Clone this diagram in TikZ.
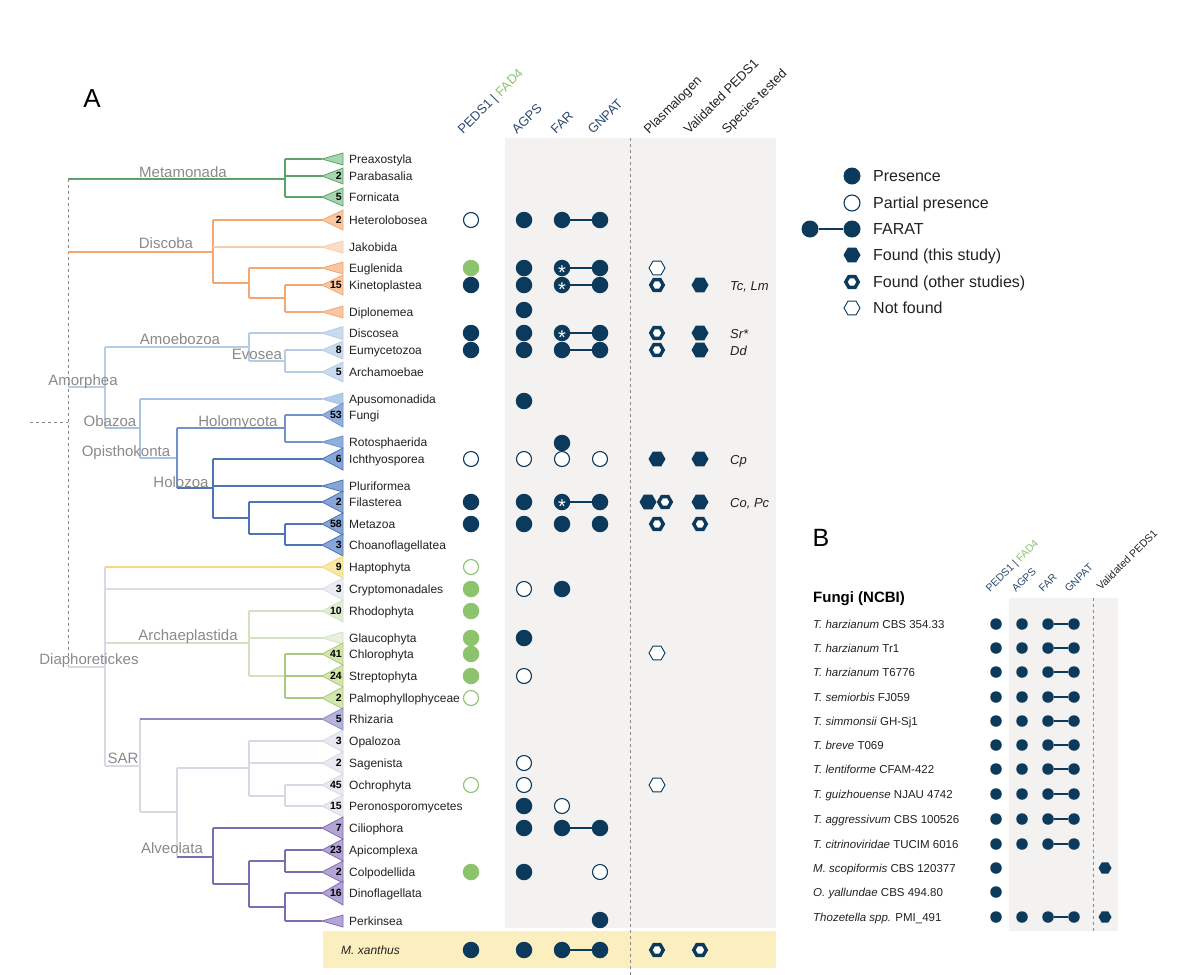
\documentclass[tikz,border=0pt]{standalone}
\usepackage{fontspec}
\setmainfont{Liberation Sans}
\usetikzlibrary{shapes.geometric}
\newcommand\myfs[1]{\fontsize{#1}{#1}\selectfont}
\definecolor{navy}{HTML}{0B3A5C}
\definecolor{grn}{HTML}{8CC46E}
\definecolor{txt}{HTML}{222222}
\definecolor{clgray}{HTML}{8A8A8A}
\definecolor{band}{HTML}{F4F1F1}
\definecolor{yband}{HTML}{FCEFBF}
\definecolor{dgray}{HTML}{888888}
\definecolor{hdr}{HTML}{2B4A72}
\definecolor{cG}{HTML}{5AA469}\definecolor{cGF}{HTML}{A8D5B0}
\definecolor{cO}{HTML}{F4A672}\definecolor{cOF}{HTML}{F9C6A0}
\definecolor{cOL}{HTML}{F8CDAA}\definecolor{cOLF}{HTML}{FBDCC6}
\definecolor{cLB}{HTML}{B4CCE6}\definecolor{cLBF}{HTML}{CADBEF}
\definecolor{cOB}{HTML}{A6C2E4}\definecolor{cOBF}{HTML}{B1CBE9}
\definecolor{cMB}{HTML}{6F93CA}\definecolor{cMBF}{HTML}{8FAEDC}
\definecolor{cDB}{HTML}{4D74B5}\definecolor{cDBF}{HTML}{86A6D7}
\definecolor{cY}{HTML}{F3DA7A}\definecolor{cYF}{HTML}{F8E7A5}
\definecolor{cC}{HTML}{DCDCE6}\definecolor{cCF}{HTML}{EBEBF2}
\definecolor{cA}{HTML}{D2E2C0}\definecolor{cRF}{HTML}{E1ECD4}\definecolor{cGlF}{HTML}{E8F0E0}
\definecolor{cV}{HTML}{A9C97E}\definecolor{cVF}{HTML}{D5E6A9}
\definecolor{cS}{HTML}{D8D8E5}\definecolor{cSF}{HTML}{E9E9F1}
\definecolor{cRh}{HTML}{8C8CC0}\definecolor{cRhF}{HTML}{B4B4DC}
\definecolor{cAl}{HTML}{7D6DB0}\definecolor{cAlF}{HTML}{B3A6D6}
\definecolor{cDi}{HTML}{D9D9E3}
\definecolor{cAm}{HTML}{B8CDE4}
\newcommand\clade[7]{%
  \filldraw[fill=#4,draw=#5,line width=0.8pt] (322,#2) -- (343,#2-#3) -- (343,#2+#3) -- cycle;
  \node[num] (n#1) at (342,#2+3.8) {#6};
  \node[tax] (t#1) at (349,#2+4.3) {#7};}
\begin{document}
\begin{tikzpicture}[x=1pt,y=-1pt,
  br/.style={line width=1.5pt},
  tax/.style={anchor=base west, inner sep=0, font=\myfs{12}, text=txt},
  num/.style={anchor=base east, inner sep=0, font={\myfs{10.5}\bfseries}, text=black},
  clab/.style={anchor=base, inner sep=0, font=\myfs{15}, text=clgray},
  pres/.style={circle, fill=navy, minimum size=16.5pt, inner sep=0},
  part/.style={circle, draw=navy, fill=white, line width=1.1pt, minimum size=15pt, inner sep=0},
  gpres/.style={circle, fill=grn, minimum size=16.5pt, inner sep=0},
  gpart/.style={circle, draw=grn, fill=white, line width=1.1pt, minimum size=15pt, inner sep=0},
  hexf/.style={regular polygon, regular polygon sides=6, fill=navy, minimum size=17pt, inner sep=0},
  hexo/.style={regular polygon, regular polygon sides=6, draw=navy, fill=white, line width=3.4pt, minimum size=12.5pt, inner sep=0},
  hexn/.style={regular polygon, regular polygon sides=6, draw=navy, fill=white, line width=0.9pt, minimum size=16pt, inner sep=0},
  farat/.style={draw=navy, line width=2pt},
  ast/.style={text=white, inner sep=0, font=\myfs{20}, yshift=-4.6pt},
  spc/.style={anchor=base west, inner sep=0, font={\myfs{13}\itshape}, text=txt},
  hA/.style={rotate=45, anchor=base west, inner sep=0, font=\myfs{13}},
  hB/.style={rotate=45, anchor=base west, inner sep=0, font=\myfs{10.5}},
  leg/.style={anchor=base west, inner sep=0, font=\myfs{16}, text=txt},
  btx/.style={anchor=base west, inner sep=0, font=\myfs{11.5}, text=txt},
  bpres/.style={circle, fill=navy, minimum size=11.5pt, inner sep=0},
  bhex/.style={regular polygon, regular polygon sides=6, fill=navy, minimum size=13pt, inner sep=0},
  bfarat/.style={draw=navy, line width=1.6pt}
]
\useasboundingbox (0,0) rectangle (1200,975);
\fill[white] (0,0) rectangle (1200,975);

% background bands
\fill[band] (505,138) rectangle (776,928);
\fill[yband] (323,931) rectangle (776,968);
\draw[dgray, dashed, line width=0.9pt] (630,138) -- (630,975);

% panel label
\node[inner sep=0, font=\myfs{26}] (labA) at (92,99) {A};

% ---------- tree ----------
\draw[dgray, dashed, line width=1pt] (68,179) -- (68,667);
\draw[dgray, dashed, line width=1pt] (30,422) -- (68,422);
% Metamonada
\draw[br,cG] (68,179) -- (285,179) (285,159) -- (285,197) (285,159) -- (322,159) (285,176) -- (322,176) (285,197) -- (322,197);
% Discoba
\draw[br,cO] (68,252) -- (213,252) (213,220) -- (213,283) (213,220) -- (322,220) (213,283) -- (249,283) (249,268) -- (249,298) (249,268) -- (322,268) (249,298) -- (285,298) (285,285) -- (285,312) (285,285) -- (322,285) (285,312) -- (322,312);
\draw[br,cOL] (213,247) -- (322,247);
% Amorphea
\draw[br,cAm] (68,387) -- (105,387) (105,347) -- (105,428);
\draw[br,cLB] (105,347) -- (249,347) (249,333) -- (249,361) (249,333) -- (322,333) (249,361) -- (285,361) (285,350) -- (285,372) (285,350) -- (322,350) (285,372) -- (322,372);
\draw[br,cOB] (105,428) -- (140,428) (140,399) -- (140,458) (140,399) -- (322,399) (140,458) -- (177,458);
\draw[br,cMB] (177,428) -- (177,488) (177,428) -- (285,428) (285,415) -- (285,442) (285,415) -- (322,415) (285,442) -- (322,442);
\draw[br,cDB] (177,488) -- (213,488) (213,459) -- (213,518) (213,459) -- (322,459) (213,486) -- (322,486) (213,518) -- (249,518) (249,502) -- (249,534) (249,502) -- (322,502) (249,534) -- (285,534) (285,524) -- (285,545) (285,524) -- (322,524) (285,545) -- (322,545);
% Diaphoretickes
\draw[br,cDi] (68,667) -- (105,667) (105,567) -- (105,766) (105,766) -- (140,766) (140,719) -- (140,812) (140,812) -- (177,812) (177,768) -- (177,857);
\draw[br,cY] (105,567) -- (322,567);
\draw[br,cC] (105,589) -- (322,589);
\draw[br,cA] (105,643) -- (249,643) (249,611) -- (249,676) (249,611) -- (322,611) (249,638) -- (322,638) (249,676) -- (285,676);
\draw[br,cV] (285,654) -- (285,698) (285,654) -- (322,654) (285,676) -- (322,676) (285,698) -- (322,698);
\draw[br,cRh] (140,719) -- (322,719);
\draw[br,cS] (177,768) -- (249,768) (249,741) -- (249,796) (249,741) -- (322,741) (249,763) -- (322,763) (249,796) -- (285,796) (285,785) -- (285,806) (285,785) -- (322,785) (285,806) -- (322,806);
\draw[br,cAl] (177,857) -- (213,857) (213,828) -- (213,884) (213,828) -- (322,828) (213,884) -- (249,884) (249,861) -- (249,907) (249,861) -- (285,861) (285,850) -- (285,872) (285,850) -- (322,850) (285,872) -- (322,872) (249,907) -- (285,907) (285,893) -- (285,921) (285,893) -- (322,893) (285,921) -- (322,921);

% clade labels
\node[clab] (cl1) at (183,177) {Metamonada};
\node[clab] (cl2) at (166,248) {Discoba};
\node[clab] (cl3) at (180,344) {Amoebozoa};
\node[clab] (cl4) at (257,359) {Evosea};
\node[clab] (cl5) at (83,385) {Amorphea};
\node[clab] (cl6) at (110,426) {Obazoa};
\node[clab] (cl7) at (238,426) {Holomycota};
\node[clab] (cl8) at (126,456) {Opisthokonta};
\node[clab] (cl9) at (181,487) {Holozoa};
\node[clab] (cl10) at (188,640) {Archaeplastida};
\node[clab] (cl11) at (89,664) {Diaphoretickes};
\node[clab] (cl12) at (123,763) {SAR};
\node[clab] (cl13) at (172,853) {Alveolata};

% clades
\clade{a}{159}{6}{cGF}{cG}{}{Preaxostyla}
\clade{b}{176}{8}{cGF}{cG}{2}{Parabasalia}
\clade{c}{197}{9}{cGF}{cG}{5}{Fornicata}
\clade{d}{220}{10}{cOF}{cO}{2}{Heterolobosea}
\clade{e}{247}{6}{cOLF}{cOL}{}{Jakobida}
\clade{f}{268}{6}{cOF}{cO}{}{Euglenida}
\clade{g}{285}{10}{cOF}{cO}{15}{Kinetoplastea}
\clade{h}{312}{6}{cOF}{cO}{}{Diplonemea}
\clade{i}{333}{6.5}{cLBF}{cLB}{}{Discosea}
\clade{j}{350}{9}{cLBF}{cLB}{8}{Eumycetozoa}
\clade{k}{372}{10}{cLBF}{cLB}{5}{Archamoebae}
\clade{l}{399}{6}{cOBF}{cOB}{}{Apusomonadida}
\clade{m}{415}{12}{cMBF}{cMB}{53}{Fungi}
\clade{n}{442}{6}{cMBF}{cMB}{}{Rotosphaerida}
\clade{o}{459}{11}{cDBF}{cDB}{6}{Ichthyosporea}
\clade{p}{486}{6}{cDBF}{cDB}{}{Pluriformea}
\clade{q}{502}{11}{cDBF}{cDB}{2}{Filasterea}
\clade{r}{524}{11}{cDBF}{cDB}{58}{Metazoa}
\clade{s}{545}{11}{cDBF}{cDB}{3}{Choanoflagellatea}
\clade{t}{567}{11}{cYF}{cY}{9}{Haptophyta}
\clade{u}{589}{11}{cCF}{cC}{3}{Cryptomonadales}
\clade{v}{611}{11}{cRF}{cA}{10}{Rhodophyta}
\clade{w}{638}{6}{cGlF}{cA}{}{Glaucophyta}
\clade{x}{654}{11}{cVF}{cV}{41}{Chlorophyta}
\clade{y}{676}{11}{cVF}{cV}{24}{Streptophyta}
\clade{z}{698}{11}{cVF}{cV}{2}{Palmophyllophyceae}
\clade{aa}{719}{11}{cRhF}{cRh}{5}{Rhizaria}
\clade{ab}{741}{11}{cSF}{cS}{3}{Opalozoa}
\clade{ac}{763}{11}{cSF}{cS}{2}{Sagenista}
\clade{ad}{785}{11}{cSF}{cS}{45}{Ochrophyta}
\clade{ae}{806}{11}{cSF}{cS}{15}{Peronosporomycetes}
\clade{af}{828}{11}{cAlF}{cAl}{7}{Ciliophora}
\clade{ag}{850}{11}{cAlF}{cAl}{23}{Apicomplexa}
\clade{ah}{872}{11}{cAlF}{cAl}{2}{Colpodellida}
\clade{ai}{893}{12}{cAlF}{cAl}{16}{Dinoflagellata}
\clade{aj}{921}{6}{cAlF}{cAl}{}{Perkinsea}
\node[tax, font={\myfs{12}\itshape}] (tmx) at (341,954.3) {M. xanthus};

% headers A
\node[hA] (hA1) at (463,135) {\textcolor{hdr}{PEDS1 |} \textcolor{grn}{FAD4}};
\node[hA, text=hdr] (hA2) at (517,135) {AGPS};
\node[hA, text=hdr] (hA3) at (556,135) {FAR};
\node[hA, text=hdr] (hA4) at (593,135) {GNPAT};
\node[hA, text=txt] (hA5) at (649,135) {Plasmalogen};
\node[hA, text=txt] (hA6) at (689,135) {Validated PEDS1};
\node[hA, text=txt] (hA7) at (727,135) {Species tested};

% ---------- matrix A ----------
% Heterolobosea
\node[part] (p1) at (471,220) {}; \node[pres] (a1) at (524,220) {};
\node[pres] (f1) at (562,220) {}; \node[pres] (g1) at (600,220) {}; \draw[farat] (f1) -- (g1);
% Euglenida
\node[gpres] (p2) at (471,268) {}; \node[pres] (a2) at (524,268) {};
\node[pres] (f2) at (562,268) {}; \node[pres] (g2) at (600,268) {}; \draw[farat] (f2) -- (g2);
\node[ast] (s2) at (562,268) {*};
\node[hexn] (l2) at (657,268) {};
% Kinetoplastea
\node[pres] (p3) at (471,285) {}; \node[pres] (a3) at (524,285) {};
\node[pres] (f3) at (562,285) {}; \node[pres] (g3) at (600,285) {}; \draw[farat] (f3) -- (g3);
\node[ast] (s3) at (562,285) {*};
\node[hexo] (l3) at (657,285) {}; \node[hexf] (v3) at (700,285) {};
\node[spc] (e3) at (730,290) {Tc, Lm};
% Diplonemea
\node[pres] (a4) at (524,310) {};
% Discosea
\node[pres] (p5) at (471,333) {}; \node[pres] (a5) at (524,333) {};
\node[pres] (f5) at (562,333) {}; \node[pres] (g5) at (600,333) {}; \draw[farat] (f5) -- (g5);
\node[ast] (s5) at (562,333) {*};
\node[hexo] (l5) at (657,333) {}; \node[hexf] (v5) at (700,333) {};
\node[spc] (e5) at (730,338) {Sr*};
% Eumycetozoa
\node[pres] (p6) at (471,350) {}; \node[pres] (a6) at (524,350) {};
\node[pres] (f6) at (562,350) {}; \node[pres] (g6) at (600,350) {}; \draw[farat] (f6) -- (g6);
\node[hexo] (l6) at (657,350) {}; \node[hexf] (v6) at (700,350) {};
\node[spc] (e6) at (730,355) {Dd};
% Apusomonadida
\node[pres] (a7) at (524,401) {};
% Rotosphaerida
\node[pres] (f8) at (562,443) {};
% Ichthyosporea
\node[part] (p9) at (471,459) {}; \node[part] (a9) at (524,459) {};
\node[part] (f9) at (562,459) {}; \node[part] (g9) at (600,459) {};
\node[hexf] (l9) at (657,459) {}; \node[hexf] (v9) at (700,459) {};
\node[spc] (e9) at (730,464) {Cp};
% Filasterea
\node[pres] (p10) at (471,502) {}; \node[pres] (a10) at (524,502) {};
\node[pres] (f10) at (562,502) {}; \node[pres] (g10) at (600,502) {}; \draw[farat] (f10) -- (g10);
\node[ast] (s10) at (562,502) {*};
\node[hexf] (l10) at (648,502) {}; \node[hexo] (m10) at (665,502) {}; \node[hexf] (v10) at (700,502) {};
\node[spc] (e10) at (730,507) {Co, Pc};
% Metazoa
\node[pres] (p11) at (471,524) {}; \node[pres] (a11) at (524,524) {};
\node[pres] (f11) at (562,524) {}; \node[pres] (g11) at (600,524) {};
\node[hexo] (l11) at (657,524) {}; \node[hexo] (v11) at (700,524) {};
% Haptophyta
\node[gpart] (p12) at (471,567) {};
% Cryptomonadales
\node[gpres] (p13) at (471,589) {}; \node[part] (a13) at (524,589) {}; \node[pres] (f13) at (562,589) {};
% Rhodophyta
\node[gpres] (p14) at (471,611) {};
% Glaucophyta
\node[gpres] (p15) at (471,638) {}; \node[pres] (a15) at (524,638) {};
% Chlorophyta
\node[gpres] (p16) at (471,654) {}; \node[hexn] (l16) at (657,653) {};
% Streptophyta
\node[gpres] (p17) at (471,676) {}; \node[part] (a17) at (524,676) {};
% Palmophyllophyceae
\node[gpart] (p18) at (471,698) {};
% Sagenista
\node[part] (a19) at (524,763) {};
% Ochrophyta
\node[gpart] (p20) at (471,785) {}; \node[part] (a20) at (524,785) {}; \node[hexn] (l20) at (657,785) {};
% Peronosporomycetes
\node[pres] (a21) at (524,806) {}; \node[part] (f21) at (562,806) {};
% Ciliophora
\node[pres] (a22) at (524,828) {};
\node[pres] (f22) at (562,828) {}; \node[pres] (g22) at (600,828) {}; \draw[farat] (f22) -- (g22);
% Colpodellida
\node[gpres] (p23) at (471,872) {}; \node[pres] (a23) at (524,872) {}; \node[part] (g23) at (600,872) {};
% Perkinsea
\node[pres] (g24) at (600,920) {};
% M. xanthus
\node[pres] (p25) at (471,950) {}; \node[pres] (a25) at (524,950) {};
\node[pres] (f25) at (562,950) {}; \node[pres] (g25) at (600,950) {}; \draw[farat] (f25) -- (g25);
\node[hexo] (l25) at (657,950) {}; \node[hexo] (v25) at (700,950) {};

% ---------- legend ----------
\node[pres, minimum size=17pt] (lg1) at (852,176) {};
\node[leg] (lt1) at (873,181.7) {Presence};
\node[part, minimum size=16pt] (lg2) at (852,203) {};
\node[leg] (lt2) at (873,208.7) {Partial presence};
\node[pres, minimum size=17pt] (lg3a) at (810,229) {};
\node[pres, minimum size=17pt] (lg3b) at (852,229) {};
\draw[farat] (lg3a) -- (lg3b);
\node[leg] (lt3) at (873,234.7) {FARAT};
\node[hexf] (lg4) at (852,255) {};
\node[leg] (lt4) at (873,260.7) {Found (this study)};
\node[hexo] (lg5) at (852,282) {};
\node[leg] (lt5) at (873,287.7) {Found (other studies)};
\node[hexn] (lg6) at (852,308) {};
\node[leg] (lt6) at (873,313.7) {Not found};

% ---------- panel B ----------
\node[inner sep=0, font=\myfs{25}] (labB) at (821,538) {B};
\fill[band] (1009,598) rectangle (1118,931);
\draw[dgray, dashed, line width=0.8pt] (1093,598) -- (1093,931);
\node[anchor=base west, inner sep=0, font={\myfs{15}\bfseries}, text=black] (fn) at (813,602.5) {Fungi (NCBI)};
\node[hB] (hB1) at (990,593) {\textcolor{hdr}{PEDS1 |} \textcolor{grn}{FAD4}};
\node[hB, text=hdr] (hB2) at (1016,593) {AGPS};
\node[hB, text=hdr] (hB3) at (1043,593) {FAR};
\node[hB, text=hdr] (hB4) at (1069,593) {GNPAT};
\node[hB, text=txt] (hB5) at (1101,591) {Validated PEDS1};

\foreach \i/\yy/\lab in {1/624/{\textit{T. harzianum} CBS 354.33},2/648/{\textit{T. harzianum} Tr1},3/672/{\textit{T. harzianum} T6776},4/697/{\textit{T. semiorbis} FJ059},5/721/{\textit{T. simmonsii} GH-Sj1},6/745/{\textit{T. breve} T069},7/769/{\textit{T. lentiforme} CFAM-422},8/794/{\textit{T. guizhouense} NJAU 4742},9/819/{\textit{T. aggressivum} CBS 100526},10/844/{\textit{T. citrinoviridae} TUCIM 6016}}{
  \node[btx] (bt\i) at (813,\yy+4) {\lab};
  \node[bpres] (bp\i) at (996,\yy) {};
  \node[bpres] (ba\i) at (1022,\yy) {};
  \node[bpres] (bf\i) at (1048,\yy) {};
  \node[bpres] (bg\i) at (1074,\yy) {};
  \draw[bfarat] (bf\i) -- (bg\i);
}
\node[btx] (bt11) at (813,872) {\textit{M. scopiformis} CBS 120377};
\node[bpres] (bp11) at (996,868) {};
\node[bhex] (bv11) at (1105,868) {};
\node[btx] (bt12) at (813,896) {\textit{O. yallundae} CBS 494.80};
\node[bpres] (bp12) at (996,892) {};
\node[btx] (bt13) at (813,921) {\textit{Thozetella spp.} PMI\_491};
\node[bpres] (bp13) at (996,917) {};
\node[bpres] (ba13) at (1022,917) {};
\node[bpres] (bf13) at (1048,917) {};
\node[bpres] (bg13) at (1074,917) {};
\draw[bfarat] (bf13) -- (bg13);
\node[bhex] (bv13) at (1105,917) {};
\end{tikzpicture}
\end{document}
